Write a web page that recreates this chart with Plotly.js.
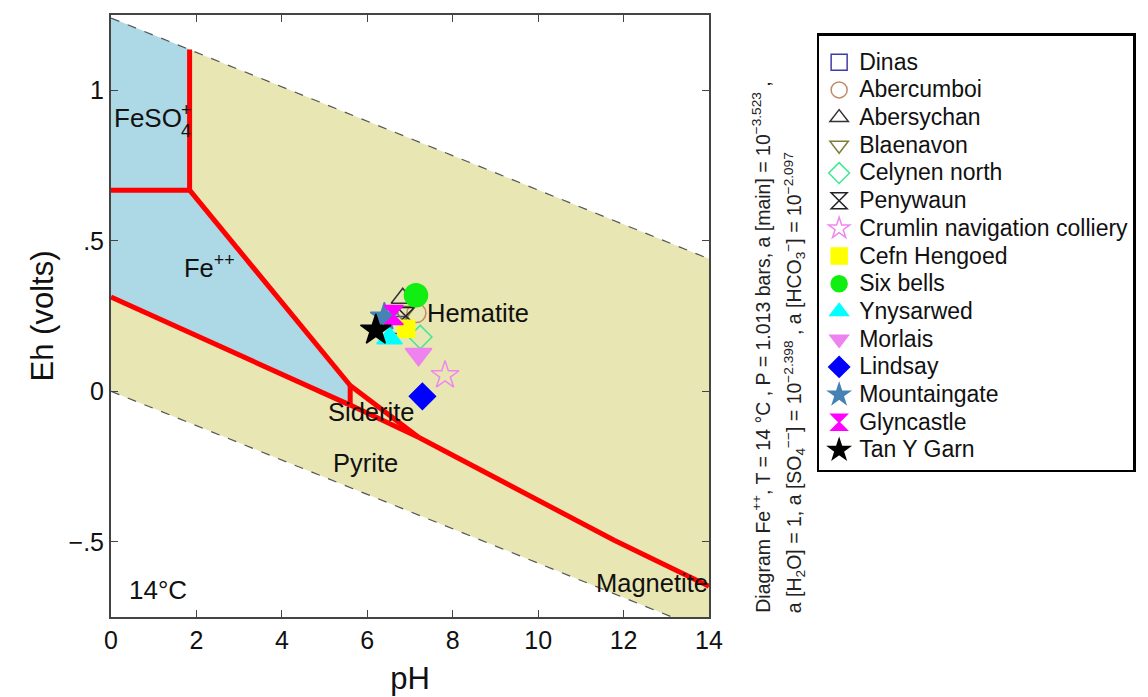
<!DOCTYPE html>
<html>
<head>
<meta charset="utf-8">
<script src="https://cdn.plot.ly/plotly-3.0.1.min.js"></script>
<style>html,body{margin:0;padding:0;background:#fff;}#chart{width:1148px;height:697px;}</style>
</head>
<body>
<div id="chart"></div>
<script>
// ---- axes ----
const phTicks = [0, 2, 4, 6, 8, 10, 12, 14];
const ehTicks = [-0.5, 0, 0.5, 1];
const ehTickText = ['\u2212.5', '0', '.5', '1'];

// ---- water stability limits (dashed) ----
const waterUpperPH = [0, 14];
const waterUpperEh = [1.24, 0.44];
const waterLowerPH = [0, 13.13];
const waterLowerEh = [0, -0.75];

// ---- field polygons ----
const stabPH = [0, 14, 14, 13.13, 0];
const stabEh = [1.24, 0.44, -0.75, -0.75, 0];
const ironPH = [0, 1.84, 1.84, 5.6, 5.6, 0];
const ironEh = [1.24, 1.135, 0.668, 0.019, -0.046, 0.313];

// ---- red boundaries ----
const bFeSO4HemPH = [1.84, 1.84];   const bFeSO4HemEh = [1.135, 0.668];
const bFeSO4FePH = [0, 1.84];       const bFeSO4FeEh = [0.668, 0.668];
const bFeHemPH = [1.84, 5.6];       const bFeHemEh = [0.668, 0.019];
const bFeSidPH = [5.6, 5.6];        const bFeSidEh = [0.019, -0.046];
const bFePyrPH = [0, 5.6];          const bFePyrEh = [0.313, -0.046];
const bSidHemPH = [5.6, 7.2];       const bSidHemEh = [0.019, -0.153];
const bSidPyrPH = [5.6, 7.2];       const bSidPyrEh = [-0.046, -0.153];
const bHemPyrPH = [7.2, 11.78, 14]; const bHemPyrEh = [-0.153, -0.495, -0.648];

// ---- samples ----
const sampleNames = ['Dinas', 'Abercumboi', 'Abersychan', 'Blaenavon', 'Celynen north', 'Penywaun',
  'Crumlin navigation colliery', 'Cefn Hengoed', 'Six bells', 'Ynysarwed', 'Morlais', 'Lindsay',
  'Mountaingate', 'Glyncastle', 'Tan Y Garn'];
const samplePH = [6.72, 7.15, 6.83, 6.85, 7.24, 6.9, 7.82, 6.91, 7.14, 6.52, 7.2, 7.29, 6.4, 6.62, 6.2];
const sampleEh = [0.22, 0.26, 0.309, 0.265, 0.18, 0.25, 0.053, 0.208, 0.319, 0.176, 0.123, -0.017, 0.247, 0.253, 0.203];
const sampleSymbols = ['square-open', 'circle-open', 'triangle-up-open', 'triangle-down-open', 'diamond-open',
  'hourglass-open', 'star-open', 'square', 'circle', 'triangle-up', 'triangle-down', 'diamond', 'star', 'hourglass', 'star'];
const sampleColors = ['#3c3ca8', '#c08a6a', '#333333', '#7d7d3a', '#3fe890', '#222222', '#ee88ee', '#ffff00',
  '#11ee11', '#00ffff', '#ee82ee', '#0000ff', '#4682b4', '#ff00ff', '#000000'];
const sampleSizes = [17, 19, 20, 20, 18, 17, 21, 17, 23, 22, 23, 20, 21, 19, 23];

const FONT = 'Arial, "Liberation Sans", sans-serif';
const traces = [];

traces.push({x: stabPH, y: stabEh, type: 'scatter', mode: 'lines', fill: 'toself',
  fillcolor: 'rgb(232,230,178)', line: {width: 0}, hoverinfo: 'skip', showlegend: false});
traces.push({x: ironPH, y: ironEh, type: 'scatter', mode: 'lines', fill: 'toself',
  fillcolor: 'rgb(173,216,230)', line: {width: 0}, hoverinfo: 'skip', showlegend: false});
[[waterUpperPH, waterUpperEh], [waterLowerPH, waterLowerEh]].forEach(function (d) {
  traces.push({x: d[0], y: d[1], type: 'scatter', mode: 'lines',
    line: {color: '#555555', width: 1.2, dash: 'dash'}, hoverinfo: 'skip', showlegend: false});
});
[[bFeSO4HemPH, bFeSO4HemEh], [bFeSO4FePH, bFeSO4FeEh], [bFeHemPH, bFeHemEh], [bFeSidPH, bFeSidEh],
 [bFePyrPH, bFePyrEh], [bSidHemPH, bSidHemEh], [bSidPyrPH, bSidPyrEh], [bHemPyrPH, bHemPyrEh]].forEach(function (d) {
  traces.push({x: d[0], y: d[1], type: 'scatter', mode: 'lines',
    line: {color: '#ff0000', width: 5}, hoverinfo: 'skip', showlegend: false});
});
sampleNames.forEach(function (n, i) {
  traces.push({x: [samplePH[i]], y: [sampleEh[i]], type: 'scatter', mode: 'markers',
    name: '<span style="font-size:23px">' + n + '</span>', legendgroup: 'g' + i,
    marker: {symbol: sampleSymbols[i], size: sampleSizes[i], color: sampleColors[i],
      line: {color: sampleColors[i], width: 1.5}}});
});

function lab(x, y, text, size, xanchor) {
  return {x: x, y: y, xref: 'x', yref: 'y', text: text, showarrow: false,
    font: {family: FONT, size: size, color: '#111'}, xanchor: xanchor || 'center', yanchor: 'middle'};
}

const layout = {
  width: 1148, height: 697,
  margin: {l: 111, r: 436, t: 15, b: 80},
  paper_bgcolor: '#ffffff', plot_bgcolor: '#ffffff',
  font: {family: FONT, color: '#111'},
  xaxis: {range: [0, 14], tickvals: phTicks, ticktext: phTicks.map(String), ticks: 'inside', ticklen: 7,
    tickcolor: '#444', showline: true, mirror: 'ticks', linecolor: '#444', linewidth: 2,
    showgrid: false, zeroline: false, tickfont: {family: FONT, size: 25, color: '#111'},
    title: {text: 'pH', font: {family: FONT, size: 31, color: '#111'}, standoff: 14}},
  yaxis: {range: [-0.75, 1.25], tickvals: ehTicks, ticktext: ehTickText, ticks: 'inside', ticklen: 7,
    tickcolor: '#444', showline: true, mirror: 'ticks', linecolor: '#444', linewidth: 2,
    showgrid: false, zeroline: false, tickfont: {family: FONT, size: 25, color: '#111'},
    title: {text: 'Eh (volts)', font: {family: FONT, size: 31, color: '#111'}, standoff: 6}},
  showlegend: true,
  legend: {x: 1.18, y: 0.97, xanchor: 'left', yanchor: 'top', bgcolor: '#ffffff',
    bordercolor: '#000000', borderwidth: 2.5, font: {family: FONT, size: 19, color: '#111'},
    title: {text: ' ', font: {family: FONT, size: 6}},
    tracegroupgap: 0, itemclick: false},
  annotations: [
    lab(0.02, 0.907, 'FeSO', 26, 'left'),
    lab(1.6, 0.935, '+', 18, 'left'),
    lab(1.6, 0.866, '4', 18, 'left'),
    lab(2.3, 0.415, 'Fe<sup>++</sup>', 25.5),
    lab(8.6, 0.26, 'Hematite', 25.5),
    lab(6.08, -0.07, 'Siderite', 25.5),
    lab(5.96, -0.24, 'Pyrite', 25.5),
    lab(12.67, -0.638, 'Magnetite', 25.5),
    lab(1.1, -0.66, '14\u00b0C', 26),
    {xref: 'paper', yref: 'paper', x: 1.087, y: 0.003, xanchor: 'center', yanchor: 'bottom', textangle: -90,
      showarrow: false, font: {family: FONT, size: 19.5, color: '#222'},
      text: 'Diagram Fe<sup>++</sup>, T = 14 \u00b0C , P = 1.013 bars, a [main] = 10<sup>\u22123.523</sup> ,'},
    {xref: 'paper', yref: 'paper', x: 1.143, y: 0.003, xanchor: 'center', yanchor: 'bottom', textangle: -90,
      showarrow: false, font: {family: FONT, size: 19.5, color: '#222'},
      text: 'a [H<sub>2</sub>O] = 1, a [SO<sub>4</sub><sup>\u2212\u2212</sup>] = 10<sup>\u22122.398</sup> , a [HCO<sub>3</sub><sup>\u2212</sup>] = 10<sup>\u22122.097</sup>'}
  ]
};

Plotly.newPlot('chart', traces, layout, {displayModeBar: false, staticPlot: true});
</script>
</body>
</html>
